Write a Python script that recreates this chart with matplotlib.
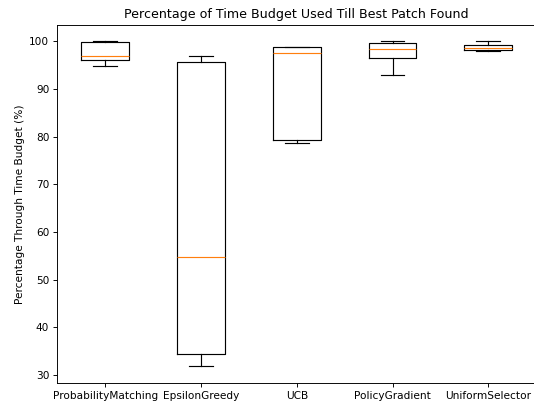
import matplotlib.pyplot as plt

selectors = ["ProbabilityMatching", "EpsilonGreedy", "UCB", "PolicyGradient", "UniformSelector"]
whislo = [94.8, 31.8, 78.7, 92.9, 98.0]
q1 = [96.0, 34.4, 79.4, 96.5, 98.1]
med = [97.0, 54.7, 97.6, 98.5, 98.7]
q3 = [99.9, 95.7, 98.8, 99.7, 99.2]
whishi = [100.0, 97.0, 98.9, 100.0, 100.0]

stats = []
for i in range(len(selectors)):
    stats.append(dict(label=selectors[i], whislo=whislo[i], q1=q1[i], med=med[i],
                      q3=q3[i], whishi=whishi[i], fliers=[]))

plt.rcParams['font.size'] = 9.1
dpi = 83.44
fig, ax = plt.subplots(figsize=(534 / dpi, 405 / dpi), dpi=dpi)
fig.subplots_adjust(left=0.1075, right=1.004, top=0.938, bottom=0.055)
ax.bxp(stats, showfliers=False)
ax.set_title("Percentage of Time Budget Used Till Best Patch Found")
ax.set_ylabel("Percentage Through Time Budget (%)")
fig.savefig("out.png", dpi=dpi)
